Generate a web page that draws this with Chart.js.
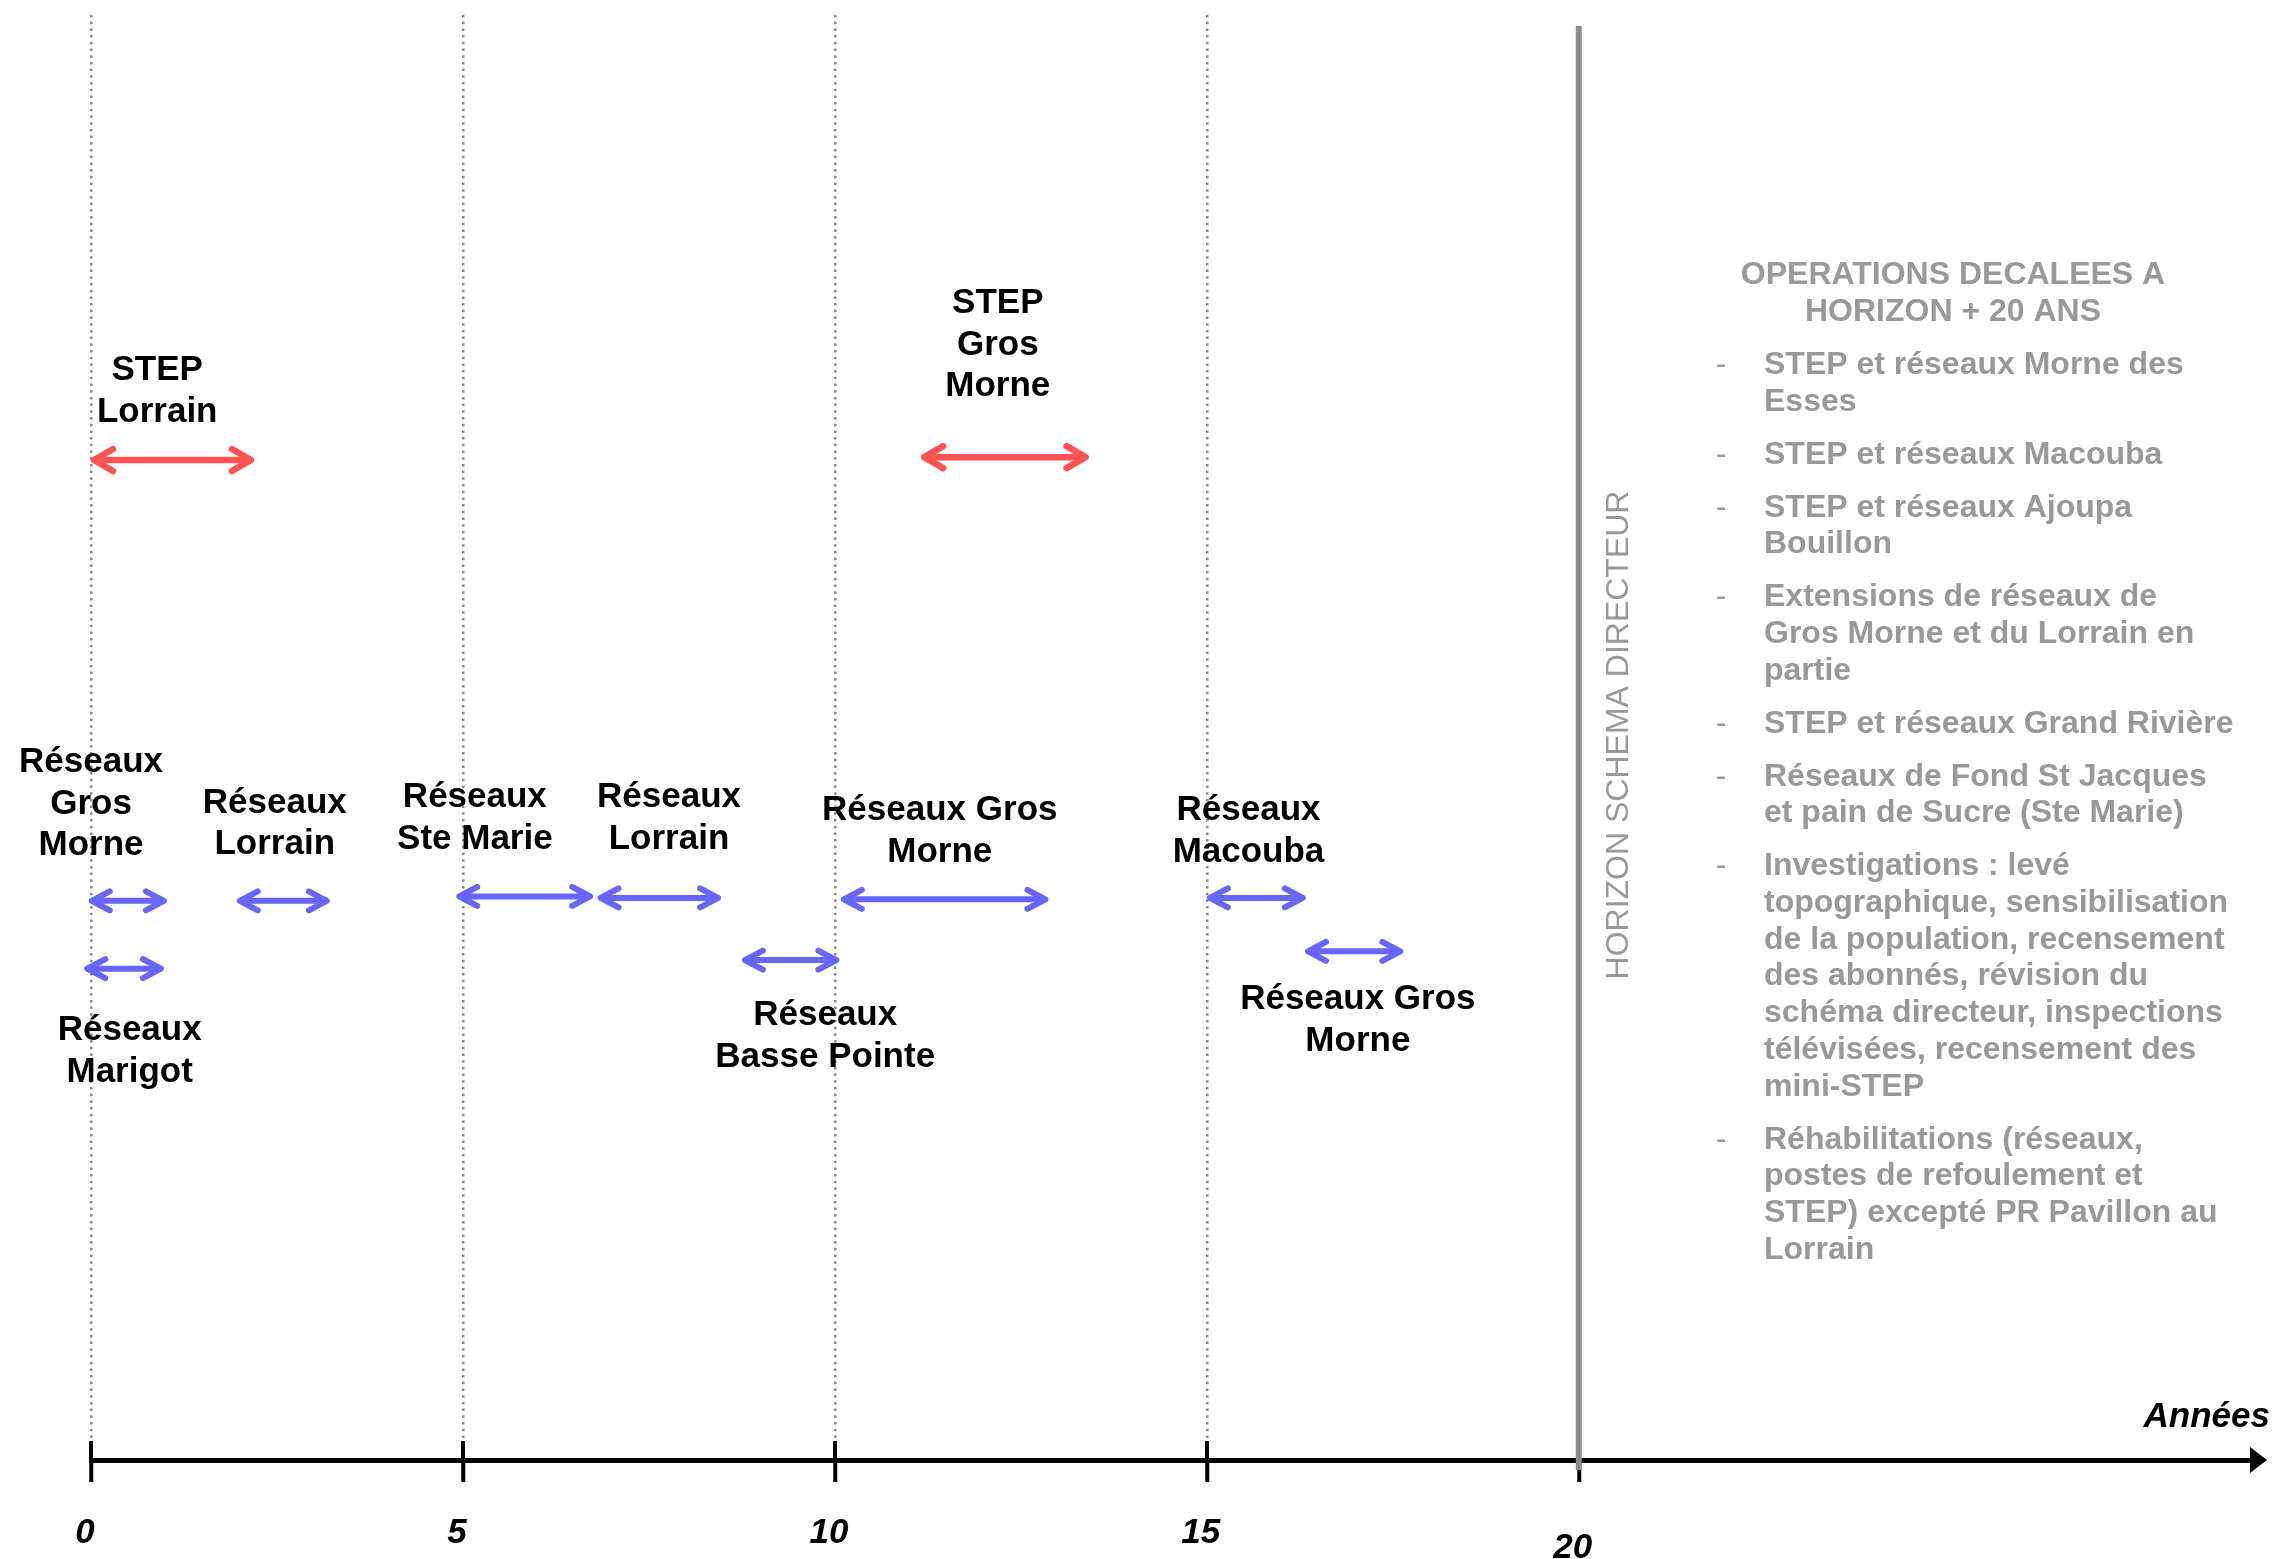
<!DOCTYPE html>
<html>
<head>
<meta charset="utf-8">
<script src="https://cdn.jsdelivr.net/npm/chart.js@4.4.1/dist/chart.umd.min.js"></script>
<style>
html,body{margin:0;padding:0;background:#fff;}
#wrap{width:2285px;height:1559px;position:relative;}
canvas{display:block;}
</style>
</head>
<body>
<div id="wrap"><canvas id="c" width="2285" height="1559"></canvas></div>
<script>
// ---------- DATA ----------
const tickYears = [0, 5, 10, 15, 20];
const horizonYear = 20;
const axisTitle = 'Années';

// STEP operations (red arrows): start / end year, lane level
const stepLabels = ['STEP\nLorrain', 'STEP\nGros\nMorne'];
const stepStart = [0.04, 11.2];
const stepEnd   = [2.15, 13.37];
const stepLevel = [69.2, 69.4];

// Network operations (blue arrows)
const reseauLabels = ['Réseaux\nGros\nMorne', 'Réseaux\nLorrain', 'Réseaux\nSte Marie', 'Réseaux\nLorrain',
  'Réseaux Gros\nMorne', 'Réseaux\nMacouba', 'Réseaux\nMarigot', 'Réseaux\nBasse Pointe', 'Réseaux Gros\nMorne'];
const reseauStart = [0.01, 2.0, 4.95, 6.85, 10.12, 15.04, -0.05, 8.79, 16.36];
const reseauEnd   = [0.98, 3.17, 6.71, 8.43, 12.83, 16.29, 0.94, 10.02, 17.6];
const reseauLevel = [38.7, 38.7, 39.0, 38.9, 38.8, 38.9, 34.0, 34.6, 35.2];

const horizonText = 'HORIZON SCHEMA DIRECTEUR';
const deferredTitle = ['OPERATIONS DECALEES A', 'HORIZON + 20 ANS'];
const deferredItems = [
  ['STEP et réseaux Morne des', 'Esses'],
  ['STEP et réseaux Macouba'],
  ['STEP et réseaux Ajoupa', 'Bouillon'],
  ['Extensions de réseaux de', 'Gros Morne et du Lorrain en', 'partie'],
  ['STEP et réseaux Grand Rivière'],
  ['Réseaux de Fond St Jacques', 'et pain de Sucre (Ste Marie)'],
  ['Investigations : levé', 'topographique, sensibilisation', 'de la population, recensement',
   'des abonnés, révision du', 'schéma directeur, inspections', 'télévisées, recensement des', 'mini-STEP'],
  ['Réhabilitations (réseaux,', 'postes de refoulement et', 'STEP) excepté PR Pavillon au', 'Lorrain']
];

// ---------- LAYOUT (label anchors in chart units: year, lane level of first line) ----------
const stepLabelAnchor = [[0.89, 75.4], [12.19, 80.04]];
const reseauLabelAnchor = [[0.0, 48.27], [2.47, 45.47], [5.16, 45.85], [7.77, 45.85], [11.41, 44.95],
  [15.56, 44.95], [0.52, 29.73], [9.87, 30.77], [17.03, 31.87]];

const RED = '#ff5252';
const BLUE = '#6666ff';
const GREY = '#999999';
const FONT = '"Liberation Sans", Arial, Helvetica, sans-serif';

const datasets = [];
stepStart.forEach((s, i) => {
  datasets.push({
    label: stepLabels[i], isArrow: true, head: {dx: 19, dy: 11},
    data: [{x: s, y: stepLevel[i]}, {x: stepEnd[i], y: stepLevel[i]}],
    borderColor: RED, borderWidth: 6.5, pointRadius: 0, borderCapStyle: 'butt', clip: false
  });
});
reseauStart.forEach((s, i) => {
  datasets.push({
    label: reseauLabels[i], isArrow: true, head: {dx: 18, dy: 9.5},
    data: [{x: s, y: reseauLevel[i]}, {x: reseauEnd[i], y: reseauLevel[i]}],
    borderColor: BLUE, borderWidth: 6, pointRadius: 0, borderCapStyle: 'butt', clip: false
  });
});
datasets.push({
  label: 'horizon', data: [{x: horizonYear, y: -0.7}, {x: horizonYear, y: 99.24}],
  borderColor: '#8c8c8c', borderWidth: 6, pointRadius: 0, clip: false
});

const decorPlugin = {
  id: 'decor',
  beforeDatasetsDraw(chart) {
    const ctx = chart.ctx, xs = chart.scales.x, area = chart.chartArea;
    // upper halves of the axis tick marks
    ctx.save();
    ctx.strokeStyle = '#000'; ctx.lineWidth = 4;
    tickYears.forEach(v => {
      const px = Math.round(xs.getPixelForValue(v));
      ctx.beginPath(); ctx.moveTo(px, area.bottom - 19); ctx.lineTo(px, area.bottom); ctx.stroke();
    });
    ctx.restore();
  },
  afterDatasetsDraw(chart) {
    const ctx = chart.ctx, xs = chart.scales.x, ys = chart.scales.y, area = chart.chartArea;
    // arrow heads
    chart.data.datasets.forEach((ds, di) => {
      if (!ds.isArrow) return;
      const pts = chart.getDatasetMeta(di).data;
      const a = pts[0], b = pts[1];
      ctx.save();
      ctx.strokeStyle = ds.borderColor; ctx.lineWidth = ds.borderWidth;
      ctx.lineCap = 'round'; ctx.lineJoin = 'round';
      const {dx, dy} = ds.head;
      ctx.beginPath();
      ctx.moveTo(a.x + dx, a.y - dy); ctx.lineTo(a.x, a.y); ctx.lineTo(a.x + dx, a.y + dy);
      ctx.moveTo(b.x - dx, b.y - dy); ctx.lineTo(b.x, b.y); ctx.lineTo(b.x - dx, b.y + dy);
      ctx.stroke();
      ctx.restore();
    });
    // operation labels
    ctx.save();
    ctx.fillStyle = '#000';
    ctx.font = 'bold 35px ' + FONT;
    ctx.textAlign = 'center'; ctx.textBaseline = 'middle';
    const drawLabel = (txt, anchor) => {
      const px = xs.getPixelForValue(anchor[0]);
      const py = ys.getPixelForValue(anchor[1]);
      txt.split('\n').forEach((ln, j) => ctx.fillText(ln, px, py + j * 41.5));
    };
    stepLabels.forEach((t, i) => drawLabel(t, stepLabelAnchor[i]));
    reseauLabels.forEach((t, i) => drawLabel(t, reseauLabelAnchor[i]));
    ctx.restore();

    // axis arrow head
    ctx.save();
    ctx.fillStyle = '#000';
    const ay = area.bottom;
    ctx.beginPath();
    ctx.moveTo(area.right - 2, ay - 13); ctx.lineTo(area.right + 15, ay); ctx.lineTo(area.right - 2, ay + 13);
    ctx.closePath(); ctx.fill();
    // axis title
    ctx.font = 'italic bold 35px ' + FONT;
    ctx.textAlign = 'right'; ctx.textBaseline = 'alphabetic';
    ctx.fillText(axisTitle, 2270, 1427);
    ctx.restore();

    // vertical horizon text
    ctx.save();
    ctx.fillStyle = GREY;
    ctx.font = '32px ' + FONT;
    ctx.translate(1619, 735);
    ctx.rotate(-Math.PI / 2);
    ctx.textAlign = 'center'; ctx.textBaseline = 'middle';
    ctx.fillText(horizonText, 0, 0);
    ctx.restore();

    // deferred operations panel
    ctx.save();
    ctx.fillStyle = GREY;
    ctx.font = 'bold 32px ' + FONT;
    ctx.textAlign = 'center'; ctx.textBaseline = 'middle';
    deferredTitle.forEach((t, j) => ctx.fillText(t, 1953, 275 + j * 37));
    let y = 365;
    const step = 36.7, gap = 16.3;
    deferredItems.forEach((item, k) => {
      ctx.font = '32px ' + FONT;
      ctx.textAlign = 'center';
      ctx.fillText('-', 1721, y);
      ctx.font = 'bold 32px ' + FONT;
      ctx.textAlign = 'left';
      item.forEach((ln, j) => {
        ctx.fillText(ln, 1764, y);
        if (j < item.length - 1) y += step;
      });
      y += step + gap;
    });
    ctx.restore();
  }
};

Chart.defaults.font.family = FONT;
new Chart(document.getElementById('c'), {
  type: 'line',
  data: {datasets},
  options: {
    responsive: false,
    devicePixelRatio: 1,
    animation: false,
    events: [],
    layout: {padding: {left: 91, right: 33, top: 15, bottom: 0}},
    plugins: {legend: {display: false}, tooltip: {enabled: false}, title: {display: false}},
    scales: {
      x: {
        type: 'linear', min: 0, max: 29.05,
        afterBuildTicks: s => { s.ticks = tickYears.map(v => ({value: v})); },
        afterFit: s => { s.height = 99; },
        grid: {
          drawOnChartArea: true, drawTicks: true,
          color: c => (c.tick && c.tick.value === horizonYear) ? 'rgba(0,0,0,0)' : '#8a8a8a',
          lineWidth: 2.5, tickLength: 22, tickWidth: 4, tickColor: '#000', tickBorderDash: []
        },
        border: {display: true, color: '#000', width: 5, dash: [2.5, 4.2]},
        ticks: {
          autoSkip: false, maxRotation: 0, minRotation: 0, padding: 30, labelOffset: -6,
          color: '#000',
          font: c => ({family: FONT, size: 35, weight: 'bold', style: 'italic',
                       lineHeight: (c.tick && c.tick.value === horizonYear) ? 72 / 35 : 42 / 35}),
          callback: v => String(v)
        }
      },
      y: {type: 'linear', min: 0, max: 100, display: false}
    }
  },
  plugins: [decorPlugin]
});
</script>
</body>
</html>
